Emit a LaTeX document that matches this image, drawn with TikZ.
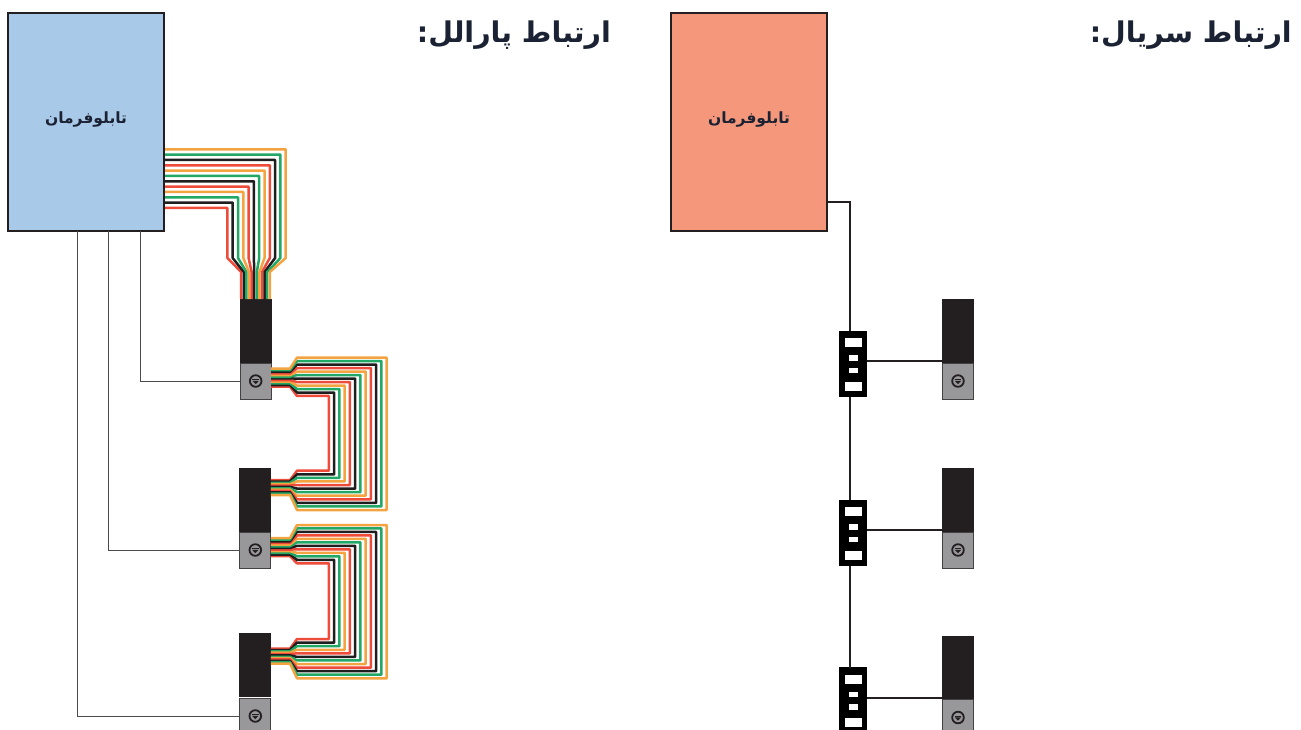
\documentclass[tikz,border=0pt]{standalone}
\usepackage{fontspec}
\usetikzlibrary{calc}
\newfontfamily\arabicfont[Script=Arabic]{DejaVu Sans}
\TeXXeTstate=1
\definecolor{wO}{HTML}{F4A341}
\definecolor{wG}{HTML}{22A866}
\definecolor{wK}{HTML}{1E1E1E}
\definecolor{wR}{HTML}{EE4B3A}
\definecolor{panelblue}{HTML}{A9C9E9}
\definecolor{panelsalmon}{HTML}{F4977A}
\definecolor{inkdark}{HTML}{231F20}
\definecolor{graybody}{HTML}{98989B}
\definecolor{titleink}{HTML}{1B2233}
\tikzset{
  panelbox/.style={draw=inkdark,line width=2pt,minimum width=156pt,minimum height=218pt,inner sep=0pt,outer sep=0pt},
  panellabel/.style={text=titleink,font=\arabicfont\bfseries\fontsize{15.5}{17}\selectfont,inner sep=0pt},
  titletext/.style={text=titleink,font=\arabicfont\bfseries\fontsize{28.5}{32}\selectfont,inner sep=0pt,anchor=east},
  blackpart/.style={fill=inkdark,draw=none,minimum width=32pt,inner sep=0pt,outer sep=0pt},
  graypart/.style={fill=graybody,draw=inkdark!85,line width=1pt,minimum width=31pt,minimum height=36pt,inner sep=0pt,outer sep=0pt},
  busbox/.style={fill=black,draw=none,minimum width=28pt,minimum height=66.5pt,inner sep=0pt,outer sep=0pt},
  thinlink/.style={draw=black!70,line width=0.9pt},
  seriallink/.style={draw=inkdark,line width=2pt},
  wirestyle/.style={line width=2.5pt,line join=round}
}
% colour of wire number i, outermost = 0
\newcommand{\wirecolor}[1]{\pgfmathtruncatemacro{\wm}{mod(#1,4)}%
  \ifcase\wm\def\wc{wO}\or\def\wc{wG}\or\def\wc{wK}\or\def\wc{wR}\fi}
% ring symbol on a gray part
\newcommand{\ringat}[1]{%
  \draw[inkdark,line width=1.8pt] (#1) circle (5.8pt);
  \fill[inkdark] ($(#1)+(-3.2,-0.2)$) -- ($(#1)+(3.2,-0.2)$) -- ($(#1)+(0,3.2)$) -- cycle;
  \draw[inkdark,line width=0.8pt] ($(#1)+(-3.4,-1.6)$) -- ($(#1)+(3.4,-1.6)$);}
% holes of a bus box
\newcommand{\busholes}[1]{%
  \fill[white] ($(#1.north)+(-8.5,7.7)$) rectangle ($(#1.north)+(8.5,16.7)$);
  \fill[white] ($(#1.north)+(-4.5,24.5)$) rectangle ($(#1.north)+(4.5,29.8)$);
  \fill[white] ($(#1.north)+(-4.5,37)$) rectangle ($(#1.north)+(4.5,42.6)$);
  \fill[white] ($(#1.north)+(-8.5,51)$) rectangle ($(#1.north)+(8.5,60)$);}
% loop ribbon: #1 top spread y of wire 0, #2 top packed y of wire 0,
% #3 bottom spread y of wire 0, #4 bottom packed y of wire 0, #5 start node, #6 end node
\newcommand{\loopribbon}[6]{%
  \foreach \i in {11,10,...,0}{
    \wirecolor{\i}
    \pgfmathsetmacro{\cx}{386.7-5.25*\i}
    \pgfmathsetmacro{\ya}{#2+1.65*\i}
    \pgfmathsetmacro{\yb}{#1+3.48*\i}
    \pgfmathsetmacro{\yc}{#3-3.57*\i}
    \pgfmathsetmacro{\yd}{#4-1.35*\i}
    \draw[wirestyle,\wc] (#5.east |- 0,\ya) -- (290,\ya) -- (297,\yb) -- (\cx,\yb)
      -- (\cx,\yc) -- (297,\yc) -- (290,\yd) -- (#6.east |- 0,\yd);
  }}
\begin{document}
\begin{tikzpicture}[x=1pt,y=-1pt]
\useasboundingbox (0,0) rectangle (1301,729);
\clip (0,0) rectangle (1301,729);
\fill[white] (0,0) rectangle (1301,729);

% titles
\node[titletext] (titleP) at (611,35) {\beginR ارتباط پارالل:\endR};
\node[titletext] (titleS) at (1292,35) {\beginR ارتباط سریال:\endR};

% parallel side
\node[panelbox,fill=panelblue] (bluepanel) at (86,122) {};
\node[panellabel] (bluelabel) at (86,119) {\beginR تابلوفرمان\endR};

\node[blackpart,minimum height=64pt] (pk1) at (255.5,331) {};
\node[graypart] (pg1) at (255.7,381) {};
\node[blackpart,minimum height=64.5pt] (pk2) at (254.8,500) {};
\node[graypart] (pg2) at (255.3,550) {};
\node[blackpart,minimum height=64.5pt] (pk3) at (254.8,665) {};
\node[graypart] (pg3) at (255.3,716) {};

% thin control lines
\coordinate (ta) at (140,231);
\coordinate (tb) at (108,231);
\coordinate (tc) at (77,231);
\draw[thinlink] (ta) |- (pg1.west);
\draw[thinlink] (tb) |- (pg2.west);
\draw[thinlink] (tc) |- (pg3.west);

% top ribbon
\foreach \i in {11,10,...,0}{
  \wirecolor{\i}
  \pgfmathsetmacro{\yy}{149.3+5.33*\i}
  \pgfmathsetmacro{\xx}{285.7-5.3*\i}
  \pgfmathsetmacro{\tx}{269.8-2.6*\i}
  \draw[wirestyle,\wc] (bluepanel.east |- 0,\yy) -- (\xx,\yy) -- (\xx,258) -- (\tx,272) -- (\tx,299);
}
\draw[inkdark,line width=2pt] (bluepanel.north east) -- (bluepanel.south east);

% loop ribbons
\loopribbon{357.7}{368.5}{510}{495}{pg1}{pk2}
\loopribbon{525}{538}{678.3}{663.5}{pg2}{pk3}

\foreach \r in {pg1,pg2,pg3}{\ringat{\r}}

% serial side
\node[panelbox,fill=panelsalmon] (salmonpanel) at (749,122) {};
\node[panellabel] (salmonlabel) at (749,119) {\beginR تابلوفرمان\endR};

\node[blackpart,minimum height=64pt] (sk1) at (958,331) {};
\node[graypart] (sg1) at (958,381) {};
\node[blackpart,minimum height=64pt] (sk2) at (958,500) {};
\node[graypart] (sg2) at (958,550) {};
\node[blackpart,minimum height=64pt] (sk3) at (958,667.5) {};
\node[graypart] (sg3) at (958,717.5) {};

\node[busbox] (bus1) at (853,364) {};
\node[busbox] (bus2) at (853,533) {};
\node[busbox] (bus3) at (853,700.5) {};

\coordinate (sout) at (827,202);
\coordinate (bustop) at (850,331);
\draw[seriallink] (sout) -| (bustop);
\draw[seriallink] (850,397) -- (850,500);
\draw[seriallink] (850,566) -- (850,668);
\draw[seriallink] (bus1.east |- 0,361) -- (sk1.west |- 0,361);
\draw[seriallink] (bus2.east |- 0,530) -- (sk2.west |- 0,530);
\draw[seriallink] (bus3.east |- 0,698) -- (sk3.west |- 0,698);

\foreach \b in {bus1,bus2,bus3}{\busholes{\b}}
\foreach \r in {sg1,sg2,sg3}{\ringat{\r}}
\end{tikzpicture}
\end{document}
